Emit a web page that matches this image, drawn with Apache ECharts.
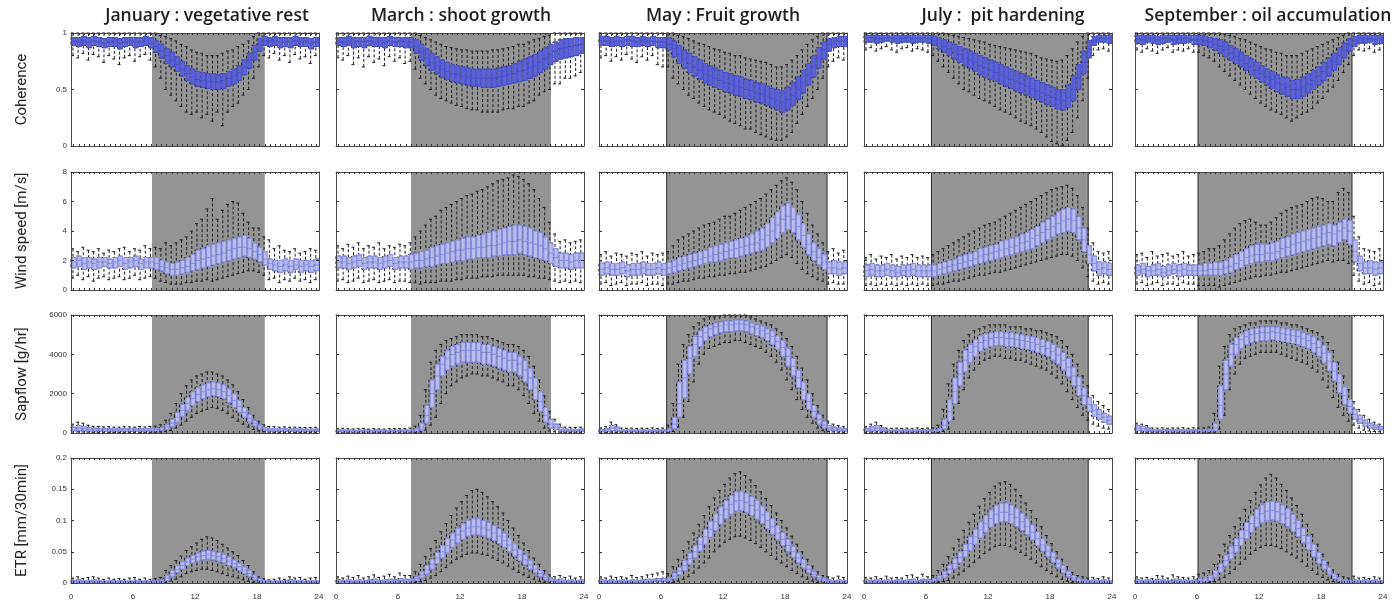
<!DOCTYPE html>
<html>
<head>
<meta charset="utf-8">
<title>Diurnal boxplots by month</title>
<script src="https://cdn.jsdelivr.net/npm/echarts@6/dist/echarts.min.js"></script>
<style>
  html, body { margin: 0; padding: 0; background: #fff; }
  #chart { width: 1398px; height: 604px; }
</style>
</head>
<body>
<div id="chart"></div>
<script>
// half-hour slots, one box per slot
const slots = ['0:00','0:30','1:00','1:30','2:00','2:30','3:00','3:30','4:00','4:30','5:00','5:30',
  '6:00','6:30','7:00','7:30','8:00','8:30','9:00','9:30','10:00','10:30','11:00','11:30',
  '12:00','12:30','13:00','13:30','14:00','14:30','15:00','15:30','16:00','16:30','17:00','17:30',
  '18:00','18:30','19:00','19:30','20:00','20:30','21:00','21:30','22:00','22:30','23:00','23:30'];
const months = ['January : vegetative rest', 'March : shoot growth', 'May : Fruit growth',
  'July :  pit hardening', 'September : oil accumulation'];
const hourTicks = [0, 6, 12, 18, 24];
// daylight window (hours) per month
const dayStart = [7.84, 7.26, 6.55, 6.53, 6.1];
const dayEnd = [18.75, 20.8, 22.07, 21.7, 21.0];

const cohTicks = [0, 0.5, 1];
const windTicks = [0, 2, 4, 6, 8];
const sapTicks = [0, 2000, 4000, 6000];
const etrTicks = [0, 0.05, 0.1, 0.15, 0.2];

// each box: [low whisker, q1, median, q3, high whisker]
const cohJan = [
  [.80,.89,.93,.96,1],[.78,.88,.92,.96,1],[.82,.89,.93,.97,1],[.76,.87,.92,.96,1],[.81,.89,.93,.97,1],[.79,.88,.92,.96,1],
  [.74,.87,.91,.95,1],[.80,.88,.92,.96,1],[.77,.88,.93,.96,1],[.72,.86,.91,.95,1],[.78,.88,.92,.96,1],[.80,.89,.93,.96,1],
  [.75,.87,.92,.96,1],[.79,.88,.92,.96,1],[.81,.89,.93,.97,1],[.76,.87,.91,.96,1],[.70,.83,.88,.93,1],[.60,.78,.84,.90,.98],
  [.50,.73,.80,.86,.97],[.45,.70,.76,.83,.95],[.40,.66,.72,.79,.93],[.35,.62,.68,.75,.90],[.30,.58,.64,.71,.88],[.28,.55,.61,.68,.85],
  [.30,.53,.59,.66,.83],[.25,.52,.58,.65,.82],[.28,.51,.57,.64,.80],[.22,.50,.57,.64,.80],[.30,.50,.57,.63,.80],[.18,.51,.58,.64,.82],
  [.30,.53,.60,.66,.84],[.35,.55,.62,.68,.85],[.38,.58,.65,.71,.88],[.45,.63,.70,.76,.90],[.50,.69,.76,.82,.93],[.60,.76,.83,.89,.97],
  [.70,.84,.90,.95,1],[.80,.89,.93,.97,1],[.78,.88,.93,.96,1],[.82,.89,.93,.97,1],[.76,.87,.92,.96,1],[.80,.88,.92,.96,1],
  [.74,.87,.92,.96,1],[.81,.89,.93,.97,1],[.77,.88,.92,.96,1],[.79,.88,.93,.96,1],[.73,.86,.91,.95,1],[.80,.88,.92,.96,1]
];
const cohMar = [
  [.78,.89,.93,.96,1],[.76,.88,.92,.96,1],[.80,.89,.93,.97,1],[.72,.87,.92,.96,1],[.78,.88,.93,.96,1],[.70,.87,.92,.96,1],
  [.79,.89,.93,.97,1],[.74,.88,.92,.96,1],[.77,.88,.93,.96,1],[.71,.87,.92,.96,1],[.79,.89,.93,.97,1],[.75,.88,.92,.96,1],
  [.78,.88,.93,.96,1],[.73,.87,.92,.96,1],[.75,.87,.92,.96,1],[.68,.82,.88,.94,1],[.60,.76,.83,.90,.98],[.55,.71,.78,.86,.96],
  [.50,.67,.74,.82,.94],[.45,.64,.71,.79,.92],[.42,.61,.68,.76,.90],[.40,.59,.66,.74,.88],[.38,.57,.64,.72,.87],[.36,.56,.63,.71,.86],
  [.35,.55,.62,.70,.85],[.33,.54,.61,.69,.85],[.32,.53,.60,.68,.84],[.32,.53,.60,.68,.84],[.30,.52,.60,.68,.84],[.30,.52,.60,.68,.84],
  [.30,.52,.60,.68,.85],[.30,.53,.61,.69,.85],[.32,.54,.62,.70,.86],[.33,.55,.63,.71,.87],[.33,.56,.64,.73,.88],[.35,.57,.66,.75,.90],
  [.35,.58,.67,.77,.90],[.38,.60,.69,.79,.92],[.40,.62,.71,.81,.94],[.45,.65,.74,.84,.95],[.48,.68,.77,.87,.97],[.50,.72,.81,.90,.98],
  [.55,.75,.84,.92,1],[.55,.77,.86,.94,1],[.60,.78,.87,.95,1],[.60,.79,.88,.95,1],[.62,.80,.89,.96,1],[.65,.82,.90,.96,1]
];
const cohMay = [
  [.78,.89,.93,.97,1],[.80,.89,.93,.97,1],[.75,.88,.92,.96,1],[.79,.89,.93,.97,1],[.76,.88,.93,.96,1],[.81,.89,.94,.97,1],
  [.77,.88,.93,.97,1],[.74,.88,.92,.96,1],[.79,.89,.93,.97,1],[.76,.88,.93,.96,1],[.80,.89,.93,.97,1],[.72,.87,.92,.96,1],
  [.70,.87,.92,.96,1],[.70,.85,.90,.96,1],[.60,.79,.86,.93,1],[.55,.73,.81,.89,.98],[.50,.69,.77,.85,.97],[.45,.65,.73,.82,.95],
  [.42,.62,.70,.79,.93],[.38,.59,.67,.76,.91],[.35,.56,.64,.73,.90],[.32,.54,.62,.71,.88],[.30,.52,.60,.69,.86],[.28,.50,.58,.67,.85],
  [.25,.48,.56,.65,.83],[.22,.47,.55,.64,.82],[.20,.45,.53,.62,.80],[.18,.44,.52,.61,.80],[.15,.42,.50,.59,.78],[.15,.41,.49,.58,.77],
  [.12,.39,.47,.56,.76],[.10,.38,.46,.55,.75],[.08,.36,.44,.53,.74],[.06,.34,.42,.51,.72],[.05,.32,.40,.50,.70],[.05,.30,.39,.49,.70],
  [.08,.32,.41,.52,.72],[.12,.36,.45,.56,.76],[.20,.41,.50,.61,.80],[.28,.47,.56,.67,.85],[.35,.54,.63,.73,.90],[.42,.61,.70,.80,.94],
  [.50,.69,.78,.87,.97],[.60,.77,.85,.92,1],[.70,.84,.90,.95,1],[.75,.87,.92,.96,1],[.78,.88,.93,.97,1],[.76,.88,.93,.97,1]
];
const cohJul = [
  [.85,.92,.95,.98,1],[.87,.92,.96,.98,1],[.84,.91,.95,.98,1],[.86,.92,.95,.98,1],[.88,.93,.96,.98,1],[.85,.92,.95,.98,1],
  [.83,.91,.95,.98,1],[.86,.92,.95,.98,1],[.87,.92,.96,.98,1],[.84,.91,.95,.98,1],[.86,.92,.95,.98,1],[.85,.92,.95,.98,1],
  [.83,.91,.95,.98,1],[.80,.89,.93,.97,1],[.75,.86,.91,.96,1],[.70,.83,.88,.94,1],[.65,.80,.86,.92,.99],[.60,.77,.83,.90,.98],
  [.55,.74,.81,.88,.97],[.50,.71,.78,.86,.96],[.48,.69,.76,.84,.95],[.45,.66,.74,.82,.94],[.42,.63,.71,.80,.93],[.40,.61,.69,.78,.92],
  [.38,.59,.67,.76,.90],[.35,.57,.65,.74,.89],[.32,.55,.63,.72,.88],[.30,.53,.61,.70,.87],[.28,.51,.59,.68,.86],[.25,.49,.57,.66,.85],
  [.22,.47,.55,.64,.84],[.20,.45,.53,.62,.83],[.18,.43,.51,.60,.82],[.15,.41,.49,.58,.80],[.12,.39,.47,.56,.78],[.08,.37,.45,.54,.77],
  [.04,.35,.43,.52,.76],[.02,.33,.41,.50,.75],[0,.32,.40,.50,.76],[.05,.34,.43,.54,.80],[.12,.40,.50,.62,.86],[.25,.50,.60,.72,.92],
  [.40,.64,.74,.84,.97],[.60,.78,.86,.93,1],[.80,.89,.93,.97,1],[.85,.92,.95,.98,1],[.86,.92,.95,.98,1],[.84,.91,.95,.98,1]
];
const cohSep = [
  [.85,.91,.95,.98,1],[.83,.90,.94,.98,1],[.86,.92,.95,.98,1],[.84,.91,.95,.98,1],[.82,.90,.94,.97,1],[.85,.91,.95,.98,1],
  [.87,.92,.95,.98,1],[.83,.90,.94,.98,1],[.85,.91,.95,.98,1],[.84,.91,.95,.98,1],[.86,.92,.95,.98,1],[.83,.90,.94,.98,1],
  [.83,.90,.94,.98,1],[.80,.89,.93,.97,1],[.78,.87,.92,.96,1],[.75,.85,.90,.95,1],[.70,.82,.88,.94,1],[.66,.79,.85,.92,.99],
  [.62,.76,.82,.89,.98],[.58,.73,.79,.86,.97],[.54,.70,.76,.83,.95],[.50,.67,.73,.80,.94],[.46,.63,.70,.77,.92],[.42,.60,.67,.74,.90],
  [.38,.57,.64,.71,.88],[.35,.54,.61,.68,.86],[.32,.51,.59,.66,.85],[.30,.48,.56,.63,.83],[.28,.46,.54,.61,.82],[.25,.44,.52,.60,.80],
  [.22,.42,.50,.58,.80],[.25,.42,.50,.59,.80],[.28,.44,.52,.61,.82],[.30,.47,.55,.64,.84],[.33,.50,.58,.67,.86],[.38,.54,.62,.70,.88],
  [.42,.58,.66,.74,.90],[.48,.62,.70,.78,.92],[.52,.67,.75,.82,.94],[.58,.72,.80,.87,.96],[.65,.78,.85,.91,.98],[.72,.84,.90,.95,1],
  [.80,.88,.93,.97,1],[.85,.91,.95,.98,1],[.84,.91,.95,.98,1],[.86,.92,.95,.98,1],[.83,.90,.94,.98,1],[.85,.91,.95,.98,1]
];

const windJan = [
  [.8,1.5,1.9,2.2,2.8],[1.0,1.6,2.0,2.3,2.6],[.7,1.4,1.8,2.2,2.9],[.9,1.5,1.9,2.2,2.7],[.6,1.4,1.8,2.1,2.6],[.8,1.5,1.9,2.2,2.8],
  [.9,1.6,1.9,2.2,2.5],[.7,1.5,1.8,2.1,2.7],[.8,1.5,1.9,2.2,2.6],[.9,1.6,2.0,2.3,2.8],[.7,1.4,1.8,2.2,2.9],[.8,1.5,1.9,2.2,2.6],
  [1.0,1.6,2.0,2.3,2.8],[.7,1.4,1.8,2.1,2.7],[.8,1.5,1.9,2.2,3.0],[.9,1.5,1.9,2.2,2.8],[.8,1.4,1.8,2.2,2.9],[.6,1.3,1.6,2.0,2.8],
  [.5,1.1,1.5,1.9,3.2],[.4,1.0,1.4,1.8,3.0],[.4,1.0,1.4,1.9,3.2],[.4,1.1,1.5,2.0,3.4],[.5,1.2,1.6,2.2,3.6],[.5,1.3,1.8,2.4,4.0],
  [.6,1.4,2.0,2.7,4.5],[.6,1.5,2.1,2.8,4.8],[.7,1.6,2.2,3.0,5.5],[.6,1.7,2.3,3.1,6.2],[.7,1.8,2.4,3.2,4.8],[.8,1.9,2.5,3.3,5.4],
  [.9,2.0,2.7,3.4,5.8],[1.0,2.1,2.8,3.5,6.0],[1.1,2.2,2.9,3.6,5.9],[1.2,2.3,2.9,3.7,5.2],[1.3,2.2,2.8,3.5,4.6],[1.3,2.1,2.6,3.2,4.2],
  [1.2,1.9,2.4,2.9,4.2],[1.0,1.7,2.1,2.6,3.6],[.7,1.4,1.8,2.1,3.4],[.8,1.3,1.7,2.0,2.8],[.5,1.2,1.6,2.0,3.0],[.7,1.3,1.7,2.1,2.7],
  [.6,1.2,1.6,2.0,2.6],[.8,1.4,1.7,2.1,2.8],[.6,1.2,1.6,2.0,2.5],[.7,1.3,1.7,2.0,2.6],[.5,1.2,1.6,2.0,2.8],[.7,1.3,1.7,2.1,2.7]
];
const windMar = [
  [.6,1.5,1.9,2.3,3.0],[.7,1.5,1.9,2.3,2.8],[.5,1.4,1.8,2.2,3.1],[.6,1.5,1.9,2.3,2.9],[.8,1.6,2.0,2.4,3.2],[.5,1.4,1.8,2.2,2.8],
  [.6,1.5,1.9,2.3,3.0],[.7,1.5,1.9,2.3,2.9],[.5,1.4,1.8,2.2,3.2],[.6,1.5,1.9,2.3,2.8],[.7,1.6,2.0,2.4,3.0],[.5,1.4,1.8,2.2,2.9],
  [.6,1.5,1.9,2.3,3.1],[.6,1.5,1.9,2.3,3.0],[.5,1.4,1.9,2.4,3.2],[.5,1.5,2.0,2.5,3.6],[.4,1.5,2.0,2.6,4.0],[.5,1.6,2.1,2.7,4.4],
  [.5,1.6,2.2,2.9,4.8],[.5,1.7,2.3,3.0,5.0],[.6,1.8,2.4,3.1,5.4],[.6,1.8,2.5,3.2,5.6],[.6,1.9,2.6,3.3,5.8],[.7,2.0,2.7,3.4,6.0],
  [.7,2.0,2.7,3.5,6.2],[.8,2.1,2.8,3.6,6.4],[.8,2.1,2.8,3.6,6.5],[.8,2.2,2.9,3.7,6.7],[.9,2.2,2.9,3.8,6.8],[.9,2.2,3.0,3.9,7.0],
  [.9,2.3,3.0,4.0,7.2],[1.0,2.3,3.1,4.1,7.4],[1.0,2.4,3.2,4.2,7.5],[1.0,2.4,3.3,4.3,7.6],[1.0,2.4,3.3,4.4,7.8],[1.0,2.5,3.4,4.4,7.7],
  [1.0,2.4,3.3,4.3,7.5],[.9,2.3,3.2,4.2,7.2],[.9,2.2,3.1,4.0,6.8],[.8,2.1,3.0,3.9,6.2],[.8,2.0,2.8,3.6,5.6],[.7,1.8,2.5,3.2,4.6],
  [.6,1.6,2.2,2.8,3.8],[.5,1.5,2.0,2.5,3.3],[.6,1.5,2.0,2.5,3.4],[.5,1.4,1.9,2.4,3.2],[.6,1.5,2.0,2.5,3.3],[.5,1.5,2.0,2.5,3.4]
];
const windMay = [
  [.4,1.0,1.4,1.8,2.4],[.5,1.1,1.5,1.9,2.6],[.3,1.0,1.4,1.8,2.3],[.4,1.0,1.4,1.8,2.5],[.5,1.1,1.5,1.9,2.4],[.3,.9,1.3,1.7,2.3],
  [.4,1.0,1.4,1.8,2.5],[.4,1.0,1.4,1.8,2.4],[.5,1.1,1.5,1.9,2.6],[.3,1.0,1.4,1.8,2.3],[.4,1.0,1.4,1.8,2.5],[.4,1.1,1.5,1.9,2.4],
  [.3,1.0,1.4,1.8,2.5],[.4,1.1,1.5,1.9,2.6],[.4,1.2,1.6,2.0,3.0],[.5,1.3,1.7,2.2,3.4],[.6,1.4,1.8,2.3,3.6],[.6,1.5,1.9,2.4,3.8],
  [.7,1.6,2.0,2.5,4.0],[.8,1.7,2.1,2.6,4.2],[.8,1.8,2.2,2.7,4.4],[.9,1.9,2.3,2.9,4.5],[.9,1.9,2.4,3.0,4.6],[1.0,2.0,2.5,3.1,4.8],
  [1.0,2.1,2.6,3.2,5.0],[1.1,2.2,2.7,3.3,5.0],[1.1,2.2,2.8,3.4,5.2],[1.2,2.3,2.9,3.5,5.4],[1.2,2.4,3.0,3.6,5.6],[1.3,2.5,3.1,3.8,5.8],
  [1.4,2.6,3.2,4.0,6.0],[1.5,2.7,3.4,4.2,6.2],[1.6,2.9,3.7,4.5,6.5],[1.8,3.2,4.0,4.9,6.8],[2.0,3.5,4.4,5.3,7.1],[2.2,3.9,4.8,5.7,7.4],
  [2.4,4.1,5.0,5.9,7.6],[2.2,3.9,4.8,5.6,7.3],[1.8,3.4,4.3,5.1,6.8],[1.4,2.9,3.7,4.5,6.0],[1.1,2.4,3.1,3.8,5.2],[.9,2.0,2.6,3.2,4.4],
  [.7,1.7,2.2,2.8,3.8],[.6,1.4,1.9,2.4,3.2],[.4,1.1,1.5,1.9,2.6],[.5,1.1,1.5,2.0,2.8],[.4,1.0,1.4,1.9,2.5],[.4,1.1,1.5,1.9,2.7]
];
const windJul = [
  [.3,.9,1.3,1.7,2.2],[.4,1.0,1.4,1.8,2.4],[.3,.9,1.3,1.7,2.1],[.4,.9,1.3,1.7,2.3],[.3,1.0,1.4,1.8,2.2],[.4,.9,1.3,1.7,2.4],
  [.3,.9,1.2,1.6,2.1],[.4,1.0,1.3,1.7,2.3],[.3,.9,1.3,1.7,2.2],[.4,1.0,1.4,1.8,2.4],[.3,.9,1.3,1.7,2.2],[.4,.9,1.3,1.7,2.3],
  [.3,.9,1.3,1.7,2.2],[.3,.9,1.3,1.7,2.4],[.4,1.0,1.4,1.8,2.6],[.4,1.1,1.5,1.9,2.8],[.5,1.2,1.6,2.0,3.0],[.6,1.3,1.7,2.1,3.2],
  [.6,1.4,1.8,2.3,3.4],[.7,1.5,1.9,2.4,3.6],[.8,1.6,2.0,2.5,3.8],[.9,1.7,2.1,2.6,4.0],[1.0,1.8,2.3,2.8,4.2],[1.0,1.9,2.4,2.9,4.4],
  [1.1,2.0,2.5,3.0,4.5],[1.2,2.1,2.6,3.1,4.6],[1.2,2.2,2.7,3.3,4.8],[1.3,2.3,2.8,3.4,5.0],[1.4,2.4,2.9,3.5,5.2],[1.5,2.5,3.0,3.6,5.4],
  [1.6,2.6,3.2,3.8,5.6],[1.7,2.7,3.3,3.9,5.8],[1.8,2.8,3.5,4.1,6.0],[1.9,3.0,3.7,4.3,6.2],[2.0,3.2,3.9,4.6,6.4],[2.1,3.4,4.1,4.8,6.6],
  [2.2,3.6,4.3,5.0,6.8],[2.3,3.8,4.5,5.3,6.9],[2.4,3.9,4.7,5.5,7.0],[2.4,4.0,4.8,5.6,7.1],[2.3,3.9,4.7,5.5,6.9],[2.0,3.4,4.2,5.0,6.4],
  [1.5,2.6,3.4,4.2,5.6],[.9,1.8,2.4,3.0,4.2],[.6,1.3,1.8,2.3,3.2],[.4,1.0,1.4,1.9,2.6],[.5,1.1,1.5,1.9,2.5],[.4,1.0,1.4,1.8,2.6]
];
const windSep = [
  [.4,1.0,1.3,1.7,2.4],[.5,1.1,1.4,1.8,2.5],[.3,.9,1.3,1.6,2.2],[.4,1.0,1.3,1.7,2.6],[.5,1.0,1.4,1.8,2.3],[.3,.9,1.2,1.6,2.4],
  [.4,1.0,1.3,1.7,2.5],[.4,1.1,1.4,1.8,2.3],[.3,.9,1.3,1.7,2.4],[.5,1.0,1.4,1.8,2.6],[.4,1.0,1.3,1.7,2.3],[.4,1.0,1.3,1.7,2.4],
  [.3,1.0,1.3,1.7,2.5],[.3,1.0,1.3,1.8,2.6],[.3,1.0,1.4,1.8,2.8],[.3,1.0,1.4,1.9,2.8],[.2,1.0,1.4,1.9,3.0],[.3,1.1,1.5,2.0,3.4],
  [.4,1.2,1.6,2.2,3.8],[.5,1.4,1.8,2.4,4.2],[.6,1.5,2.0,2.6,4.5],[.7,1.7,2.2,2.8,4.7],[.8,1.8,2.3,3.0,4.8],[.9,1.9,2.4,3.1,4.6],
  [.9,1.9,2.4,3.1,4.4],[1.0,2.0,2.5,3.1,4.4],[1.0,2.0,2.5,3.2,4.6],[1.1,2.1,2.6,3.3,4.9],[1.2,2.2,2.8,3.5,5.2],[1.2,2.3,2.9,3.6,5.4],
  [1.3,2.4,3.1,3.8,5.6],[1.4,2.5,3.2,3.9,5.7],[1.5,2.6,3.3,4.0,5.8],[1.6,2.7,3.4,4.1,6.0],[1.7,2.8,3.5,4.2,6.2],[1.8,2.9,3.6,4.3,6.3],
  [1.9,3.0,3.8,4.4,6.2],[2.0,3.1,3.9,4.5,6.0],[1.9,3.0,3.8,4.4,6.0],[2.0,3.2,4.0,4.6,6.6],[2.0,3.4,4.2,4.8,6.9],[1.8,3.1,4.0,4.7,6.6],
  [1.0,1.9,2.6,3.4,5.0],[.6,1.3,1.8,2.3,3.6],[.4,1.1,1.5,1.9,2.8],[.5,1.1,1.5,2.0,2.7],[.3,1.0,1.4,1.9,2.6],[.4,1.1,1.5,1.9,2.8]
];

const sapJan = [
  [50,100,200,300,450],[50,120,250,380,550],[50,110,220,330,500],[40,100,190,280,400],[30,90,170,240,340],[30,90,160,230,330],
  [30,80,150,220,310],[30,90,160,230,320],[30,90,150,220,300],[30,80,150,210,300],[30,90,160,230,320],[30,80,150,220,310],
  [30,90,150,220,300],[30,90,160,230,330],[30,80,150,220,310],[30,90,160,230,330],[40,100,170,240,350],[50,120,200,280,420],
  [80,180,300,420,650],[120,320,500,700,1000],[250,550,800,1050,1500],[400,850,1150,1450,2000],[600,1150,1500,1800,2400],[800,1400,1750,2100,2700],
  [1000,1600,1950,2300,2900],[1100,1750,2100,2450,3000],[1200,1850,2200,2550,3100],[1300,1900,2250,2600,3100],[1250,1850,2200,2550,3000],[1150,1750,2100,2450,2900],
  [1000,1550,1900,2250,2700],[800,1300,1650,2000,2450],[600,1050,1350,1650,2100],[450,800,1050,1300,1700],[300,550,750,950,1300],[180,350,500,650,900],
  [100,200,300,400,600],[60,130,200,280,420],[40,100,160,230,330],[30,90,150,220,320],[30,80,140,210,300],[30,90,150,220,310],
  [30,80,140,200,290],[30,80,140,210,300],[30,80,130,200,290],[30,80,140,200,280],[30,70,130,190,280],[30,80,130,200,290]
];
const sapMar = [
  [20,60,100,150,220],[20,60,110,160,240],[20,60,100,150,220],[20,50,90,140,210],[20,60,100,150,220],[20,60,100,150,230],
  [20,50,90,140,200],[20,60,100,150,220],[20,60,100,150,210],[20,50,90,140,200],[20,60,100,150,220],[20,60,100,150,230],
  [20,60,100,150,220],[20,60,100,150,220],[20,60,110,160,250],[30,80,150,220,350],[50,150,300,500,900],[150,500,900,1400,2200],
  [400,1300,2000,2700,3600],[800,2200,2900,3500,4200],[1500,2900,3500,3900,4500],[2000,3200,3800,4200,4700],[2400,3400,4000,4400,4800],[2600,3500,4100,4500,4900],
  [2800,3600,4200,4600,5000],[2900,3600,4200,4600,5000],[3000,3600,4200,4600,5000],[3000,3600,4200,4600,5000],[2900,3500,4100,4500,4900],[2900,3500,4100,4500,4900],
  [2800,3400,4000,4400,4800],[2700,3300,3900,4300,4700],[2600,3200,3800,4200,4600],[2400,3100,3700,4100,4500],[2400,3100,3700,4100,4500],[2200,2900,3500,3900,4400],
  [1900,2600,3200,3700,4200],[1500,2200,2800,3300,3900],[1000,1700,2300,2800,3400],[600,1100,1600,2100,2700],[250,550,900,1300,1900],[100,250,450,700,1100],
  [60,180,300,450,700],[40,100,180,280,450],[20,70,130,200,300],[20,70,120,190,290],[20,60,120,180,280],[20,70,130,200,300]
];
const sapMay = [
  [20,60,120,180,260],[30,80,150,220,320],[40,120,250,380,550],[30,100,200,300,420],[20,60,110,170,250],[20,60,100,160,240],
  [20,60,110,170,250],[20,50,100,150,230],[20,60,110,170,250],[20,60,100,160,240],[20,60,110,170,260],[20,50,100,150,230],
  [20,60,110,170,250],[30,80,150,220,400],[80,200,450,800,1500],[300,800,1500,2600,3500],[800,1800,2800,3700,4500],[1600,3000,3800,4400,5000],
  [2600,3900,4500,4900,5400],[3500,4400,4900,5200,5600],[4000,4700,5100,5400,5800],[4300,4900,5300,5500,5900],[4400,5000,5400,5600,5900],[4500,5100,5450,5650,5950],
  [4600,5150,5500,5700,6000],[4600,5150,5500,5700,6000],[4700,5200,5550,5750,6000],[4700,5200,5550,5750,6000],[4600,5150,5500,5700,6000],[4500,5050,5400,5600,5900],
  [4400,4950,5300,5500,5800],[4300,4850,5200,5450,5700],[4100,4700,5050,5300,5600],[3900,4500,4900,5200,5500],[3600,4250,4650,4950,5300],[3200,3900,4350,4700,5100],
  [2700,3400,3900,4300,4800],[2200,2900,3400,3800,4400],[1700,2300,2800,3200,3900],[1200,1700,2200,2600,3300],[800,1200,1600,2000,2700],[500,800,1100,1400,2000],
  [250,450,700,950,1400],[120,250,400,600,900],[60,150,250,380,600],[50,120,200,300,450],[40,100,170,250,380],[30,90,150,220,320]
];
const sapJul = [
  [30,80,150,220,320],[40,100,200,320,450],[40,120,250,380,550],[30,100,180,260,380],[20,60,110,170,250],[20,60,100,160,240],
  [20,60,110,170,250],[20,50,100,150,230],[20,60,110,170,250],[20,60,100,160,240],[20,60,110,170,260],[20,50,100,150,230],
  [20,60,110,170,250],[20,60,110,170,260],[30,80,150,230,400],[80,200,400,700,1200],[200,600,1100,1700,2500],[700,1500,2100,2800,3500],
  [1500,2400,3000,3600,4200],[2200,3100,3700,4200,4700],[2800,3600,4100,4500,5000],[3200,3900,4400,4750,5200],[3500,4150,4600,4950,5300],[3700,4300,4700,5050,5400],
  [3800,4400,4800,5100,5500],[3900,4450,4850,5150,5500],[3900,4450,4850,5150,5500],[3800,4400,4800,5100,5500],[3800,4400,4800,5100,5400],[3700,4350,4750,5050,5400],
  [3700,4300,4700,5000,5400],[3600,4250,4650,4950,5300],[3500,4200,4600,4900,5300],[3400,4100,4500,4850,5200],[3300,4000,4400,4750,5200],[3200,3900,4300,4650,5100],
  [3000,3700,4150,4500,5000],[2800,3500,3950,4350,4900],[2500,3200,3700,4100,4700],[2100,2850,3350,3800,4400],[1700,2400,2900,3350,4000],[1300,1900,2400,2850,3500],
  [900,1450,1900,2300,2900],[650,1100,1450,1800,2400],[450,850,1150,1450,1900],[350,700,950,1200,1600],[250,550,800,1000,1400],[200,450,650,850,1200]
];
const sapSep = [
  [40,120,250,380,500],[40,110,220,330,450],[30,100,180,260,380],[20,60,120,180,260],[20,60,110,170,250],[20,60,120,180,260],
  [20,50,110,170,240],[20,60,120,180,260],[20,60,110,170,250],[20,60,120,180,270],[20,50,110,170,240],[20,60,120,180,260],
  [20,60,110,170,250],[20,60,120,180,260],[20,70,130,200,300],[40,100,250,500,1000],[200,700,1400,2400,3400],[900,2200,3000,3700,4400],
  [2200,3400,4000,4500,5000],[3000,4000,4500,4850,5300],[3500,4300,4750,5050,5400],[3800,4500,4900,5200,5500],[3900,4600,5000,5300,5600],[4000,4650,5050,5350,5600],
  [4100,4700,5100,5400,5700],[4100,4700,5100,5400,5700],[4100,4750,5150,5400,5700],[4100,4700,5100,5400,5700],[4000,4650,5050,5350,5600],[3900,4600,5000,5300,5600],
  [3800,4550,4950,5250,5500],[3700,4500,4900,5200,5500],[3600,4400,4800,5100,5400],[3500,4300,4700,5000,5300],[3300,4100,4550,4900,5200],[3100,3900,4350,4700,5100],
  [2700,3550,4050,4450,4900],[2300,3150,3650,4100,4600],[1800,2650,3150,3600,4200],[1300,2050,2550,3000,3600],[900,1450,1900,2350,2900],[600,1000,1350,1700,2200],
  [400,700,950,1200,1600],[250,500,700,900,1200],[150,350,500,650,900],[100,250,380,500,700],[80,200,300,400,550],[60,160,250,330,450]
];

const etrJan = [
  [0,.001,.002,.004,.008],[0,.001,.003,.005,.010],[0,.001,.002,.004,.007],[0,.001,.002,.004,.009],[0,.001,.003,.005,.010],[0,.001,.002,.004,.008],
  [0,.001,.002,.003,.006],[0,.001,.002,.004,.008],[0,.001,.002,.003,.006],[0,.001,.002,.004,.007],[0,.001,.002,.003,.006],[0,.001,.002,.004,.008],
  [0,.001,.002,.004,.009],[0,.001,.002,.003,.006],[0,.001,.002,.004,.008],[0,.001,.002,.003,.006],[0,.001,.002,.004,.007],[0,.001,.003,.005,.009],
  [.001,.004,.008,.012,.020],[.003,.010,.015,.020,.028],[.006,.017,.022,.028,.036],[.010,.022,.028,.034,.043],[.015,.028,.034,.040,.052],[.018,.032,.038,.044,.058],
  [.020,.035,.042,.048,.064],[.022,.037,.044,.051,.070],[.022,.038,.045,.052,.074],[.020,.037,.044,.051,.072],[.018,.035,.042,.049,.068],[.015,.032,.039,.046,.062],
  [.012,.028,.035,.042,.056],[.010,.025,.031,.037,.050],[.008,.020,.026,.032,.044],[.005,.015,.021,.026,.036],[.003,.010,.015,.020,.028],[.001,.005,.009,.013,.018],
  [0,.002,.004,.007,.010],[0,.001,.002,.004,.007],[0,.001,.002,.003,.005],[0,.001,.002,.003,.006],[0,.001,.002,.004,.008],[0,.001,.002,.003,.006],
  [0,.001,.003,.005,.010],[0,.001,.002,.004,.008],[0,.001,.002,.004,.009],[0,.001,.002,.003,.006],[0,.001,.002,.004,.008],[0,.001,.002,.004,.009]
];
const etrMar = [
  [0,.001,.003,.005,.010],[0,.001,.002,.004,.008],[0,.001,.003,.005,.011],[0,.001,.002,.004,.009],[0,.001,.003,.005,.012],[0,.001,.002,.004,.008],
  [0,.001,.003,.005,.010],[0,.001,.003,.006,.013],[0,.001,.002,.004,.009],[0,.001,.003,.005,.011],[0,.001,.003,.006,.014],[0,.001,.003,.005,.010],
  [0,.002,.004,.007,.016],[0,.001,.003,.006,.012],[0,.002,.004,.006,.012],[.001,.004,.007,.010,.018],[.002,.008,.013,.018,.030],[.004,.014,.021,.028,.042],
  [.008,.022,.030,.038,.055],[.012,.031,.040,.049,.068],[.018,.040,.050,.060,.082],[.025,.049,.060,.071,.095],[.032,.057,.069,.080,.108],[.038,.064,.077,.088,.120],
  [.042,.070,.083,.095,.130],[.046,.075,.088,.100,.140],[.048,.077,.090,.103,.148],[.048,.077,.090,.103,.150],[.046,.075,.088,.100,.145],[.044,.072,.085,.097,.138],
  [.040,.068,.080,.092,.130],[.036,.063,.075,.087,.122],[.032,.057,.068,.080,.112],[.027,.050,.061,.072,.100],[.022,.043,.053,.063,.088],[.017,.036,.045,.054,.076],
  [.013,.029,.037,.045,.064],[.009,.022,.029,.036,.052],[.006,.016,.022,.028,.040],[.003,.010,.015,.020,.030],[.001,.005,.009,.013,.020],[0,.003,.005,.008,.013],
  [0,.001,.003,.005,.010],[0,.001,.003,.006,.012],[0,.001,.002,.004,.009],[0,.001,.003,.005,.011],[0,.001,.002,.004,.008],[0,.001,.003,.005,.010]
];
const etrMay = [
  [0,.001,.003,.005,.010],[0,.001,.002,.004,.008],[0,.001,.003,.005,.011],[0,.001,.002,.004,.009],[0,.001,.003,.005,.010],[0,.001,.002,.004,.008],
  [0,.001,.003,.005,.012],[0,.001,.002,.004,.009],[0,.001,.003,.005,.010],[0,.001,.003,.006,.013],[0,.002,.004,.006,.014],[0,.002,.004,.007,.016],
  [0,.002,.004,.007,.018],[0,.003,.006,.009,.015],[.001,.007,.011,.016,.026],[.003,.013,.019,.025,.038],[.006,.020,.028,.036,.052],[.010,.030,.039,.048,.066],
  [.016,.040,.050,.060,.080],[.024,.051,.062,.073,.094],[.032,.062,.074,.086,.108],[.040,.073,.086,.099,.122],[.050,.084,.098,.111,.136],[.058,.094,.109,.122,.148],
  [.065,.103,.118,.132,.158],[.070,.110,.126,.140,.168],[.074,.115,.131,.146,.175],[.075,.116,.132,.147,.178],[.072,.113,.129,.144,.172],[.068,.108,.124,.139,.165],
  [.063,.102,.117,.132,.156],[.057,.095,.109,.123,.146],[.050,.087,.100,.114,.135],[.044,.078,.090,.103,.124],[.038,.069,.080,.092,.112],[.032,.060,.070,.081,.100],
  [.026,.050,.060,.070,.088],[.020,.041,.050,.059,.075],[.015,.032,.040,.048,.062],[.010,.024,.031,.038,.050],[.006,.016,.022,.028,.038],[.003,.010,.014,.019,.027],
  [.001,.005,.008,.012,.018],[0,.002,.005,.008,.012],[0,.001,.003,.005,.010],[0,.001,.002,.004,.008],[0,.001,.003,.005,.011],[0,.001,.002,.004,.009]
];
const etrJul = [
  [0,.001,.003,.005,.009],[0,.001,.002,.004,.008],[0,.001,.003,.005,.010],[0,.001,.002,.004,.007],[0,.001,.003,.005,.011],[0,.001,.002,.004,.008],
  [0,.001,.003,.005,.009],[0,.001,.002,.004,.008],[0,.001,.003,.005,.012],[0,.001,.003,.006,.013],[0,.001,.002,.004,.009],[0,.002,.004,.006,.014],
  [0,.001,.003,.005,.010],[0,.002,.004,.007,.012],[.001,.005,.008,.012,.020],[.002,.009,.014,.019,.030],[.004,.015,.022,.029,.042],[.008,.023,.031,.039,.056],
  [.013,.032,.041,.050,.070],[.019,.042,.052,.062,.084],[.026,.052,.063,.074,.097],[.033,.062,.074,.086,.110],[.040,.072,.085,.098,.123],[.047,.081,.095,.108,.135],
  [.053,.089,.103,.117,.145],[.058,.095,.110,.124,.155],[.060,.098,.113,.128,.160],[.060,.098,.113,.128,.162],[.058,.095,.110,.125,.158],[.054,.090,.105,.120,.150],
  [.049,.084,.098,.112,.140],[.044,.077,.090,.103,.128],[.038,.069,.081,.093,.116],[.032,.060,.071,.082,.103],[.026,.051,.061,.071,.090],[.020,.042,.051,.060,.076],
  [.015,.033,.041,.049,.063],[.010,.024,.031,.038,.050],[.006,.016,.022,.028,.038],[.003,.010,.014,.019,.026],[.001,.005,.008,.012,.017],[0,.002,.005,.008,.012],
  [0,.001,.003,.005,.010],[0,.001,.002,.004,.008],[0,.001,.003,.005,.009],[0,.001,.002,.004,.007],[0,.001,.003,.005,.010],[0,.001,.002,.004,.008]
];
const etrSep = [
  [0,.001,.003,.005,.010],[0,.001,.002,.004,.008],[0,.001,.003,.005,.009],[0,.001,.002,.004,.007],[0,.001,.003,.006,.012],[0,.001,.003,.005,.011],
  [0,.001,.002,.004,.008],[0,.002,.004,.006,.013],[0,.001,.003,.005,.010],[0,.001,.003,.005,.009],[0,.001,.002,.004,.008],[0,.001,.003,.005,.010],
  [0,.002,.004,.007,.014],[0,.002,.005,.008,.016],[.001,.004,.008,.012,.020],[.002,.009,.014,.020,.030],[.005,.017,.024,.031,.045],[.009,.027,.036,.045,.062],
  [.015,.038,.048,.058,.076],[.022,.049,.060,.071,.090],[.030,.060,.072,.084,.104],[.038,.071,.084,.097,.118],[.046,.081,.095,.108,.132],[.052,.090,.104,.118,.145],
  [.057,.096,.111,.125,.157],[.060,.100,.115,.130,.168],[.060,.101,.116,.131,.174],[.058,.099,.114,.129,.168],[.055,.095,.110,.125,.158],[.050,.090,.104,.119,.148],
  [.045,.082,.096,.110,.136],[.040,.074,.087,.100,.124],[.034,.064,.076,.088,.110],[.027,.053,.064,.075,.094],[.020,.042,.052,.062,.078],[.014,.031,.040,.049,.062],
  [.009,.022,.029,.036,.046],[.005,.014,.019,.025,.033],[.002,.007,.011,.015,.021],[0,.003,.006,.009,.014],[0,.001,.003,.005,.010],[0,.001,.002,.004,.008],
  [0,.001,.003,.005,.011],[0,.001,.002,.004,.008],[0,.001,.003,.005,.009],[0,.001,.002,.004,.007],[0,.001,.003,.005,.010],[0,.001,.002,.004,.008]
];

const rows = [
  { name: 'Coherence', ticks: cohTicks, panels: [cohJan, cohMar, cohMay, cohJul, cohSep] },
  { name: 'Wind speed [m/s]', ticks: windTicks, panels: [windJan, windMar, windMay, windJul, windSep] },
  { name: 'Sapflow [g/hr]', ticks: sapTicks, panels: [sapJan, sapMar, sapMay, sapJul, sapSep] },
  { name: 'ETR [mm/30min]', ticks: etrTicks, panels: [etrJan, etrMar, etrMay, etrJul, etrSep] }
];

// layout of the 4 x 5 panel matrix
const colLeft = [71, 336, 599, 864, 1135];
const colWidth = 248;
const rowTop = [33, 172, 315, 458];
const rowHeight = [113, 118, 118, 125];
const titleX = [207, 461, 723, 1003, 1268];
const boxFill = ['#5a62d4', '#babcef', '#babcef', '#babcef'];
const boxEdge = ['#4b53cc', '#8a8fe0', '#8a8fe0', '#8a8fe0'];
const shadeEdge = [false, false, true, true, true];

const chart = echarts.init(document.getElementById('chart'));

const grids = [], xAxes = [], yAxes = [], series = [], graphics = [];
const frame = { show: true, onZero: false, lineStyle: { color: '#4a4a4a', width: 1 } };
const tickStyle = { color: '#333', width: 1 };
const labelFont = { fontFamily: 'Liberation Sans', fontSize: 8, color: '#333' };

rows.forEach((row, r) => {
  const yMin = row.ticks[0];
  const yMax = row.ticks[row.ticks.length - 1];
  const yStep = row.ticks[1] - row.ticks[0];
  row.panels.forEach((panel, c) => {
    const g = grids.length;
    grids.push({ left: colLeft[c], top: rowTop[r], width: colWidth, height: rowHeight[r], outerBoundsMode: 'none' });

    ['bottom', 'top'].forEach(pos => {
      xAxes.push({
        type: 'category', gridIndex: g, position: pos, data: slots, z: 10,
        axisLine: frame,
        axisTick: { show: true, inside: true, length: 2, interval: 0, alignWithLabel: true, lineStyle: tickStyle },
        axisLabel: { show: false }, splitLine: { show: false }
      });
    });
    xAxes.push({
      type: 'value', gridIndex: g, position: 'bottom', show: r === rows.length - 1,
      min: hourTicks[0], max: hourTicks[hourTicks.length - 1], interval: hourTicks[1] - hourTicks[0],
      axisLine: { show: false }, axisTick: { show: false }, splitLine: { show: false },
      axisLabel: Object.assign({ margin: 10 }, labelFont)
    });

    ['left', 'right'].forEach(pos => {
      yAxes.push({
        type: 'value', gridIndex: g, position: pos, min: yMin, max: yMax, interval: yStep, z: 10,
        axisLine: frame,
        axisTick: { show: true, inside: true, length: 3, lineStyle: tickStyle },
        axisLabel: Object.assign({ show: pos === 'left' && c === 0, margin: 4, formatter: v => String(v) }, labelFont),
        splitLine: { show: false }
      });
    });

    const withEdge = shadeEdge[c];
    series.push({
      type: 'custom', xAxisIndex: 3 * g + 2, yAxisIndex: 2 * g, z: 1, silent: true,
      data: [[dayStart[c], dayEnd[c], yMin]],
      encode: { x: [0, 1], y: 2 },
      renderItem: (params, api) => {
        const cs = params.coordSys;
        const x0 = api.coord([api.value(0), yMin])[0];
        const x1 = api.coord([api.value(1), yMin])[0];
        const kids = [{ type: 'rect', shape: { x: x0, y: cs.y, width: x1 - x0, height: cs.height }, style: { fill: '#939493' } }];
        if (withEdge) {
          [x0, x1].forEach(x => kids.push({
            type: 'line', shape: { x1: x, y1: cs.y, x2: x, y2: cs.y + cs.height },
            style: { stroke: '#2a2a2a', lineWidth: 1 }
          }));
        }
        return { type: 'group', children: kids };
      }
    });

    // whiskers: dashed black
    series.push({
      type: 'boxplot', xAxisIndex: 3 * g, yAxisIndex: 2 * g, z: 2, silent: true,
      boxWidth: [4, 4],
      itemStyle: { color: 'rgba(0,0,0,0)', borderColor: '#1e1e1e', borderWidth: 1, borderType: [3, 2] },
      data: panel
    });
    // boxes: q1..q3 with median
    series.push({
      type: 'boxplot', xAxisIndex: 3 * g, yAxisIndex: 2 * g, z: 3, silent: true,
      boxWidth: [4, 4],
      itemStyle: { color: boxFill[r], borderColor: boxEdge[r], borderWidth: 1 },
      data: panel.map(b => [b[1], b[1], b[2], b[3], b[3]])
    });
  });

  graphics.push({
    type: 'text', x: 22, y: rowTop[r] + rowHeight[r] / 2, rotation: Math.PI / 2,
    style: { text: row.name, align: 'center', verticalAlign: 'middle', fontFamily: 'Roboto', fontSize: 15, fill: '#222' }
  });
});

months.forEach((m, c) => {
  graphics.push({
    type: 'text', x: titleX[c], y: 16,
    style: { text: m, align: 'center', verticalAlign: 'middle', fontFamily: 'Open Sans', fontWeight: 600, fontSize: 17.5, fill: '#1e1e1e' }
  });
});

chart.setOption({
  animation: false,
  backgroundColor: '#fff',
  grid: grids,
  xAxis: xAxes,
  yAxis: yAxes,
  series: series,
  graphic: graphics
});
</script>
</body>
</html>
